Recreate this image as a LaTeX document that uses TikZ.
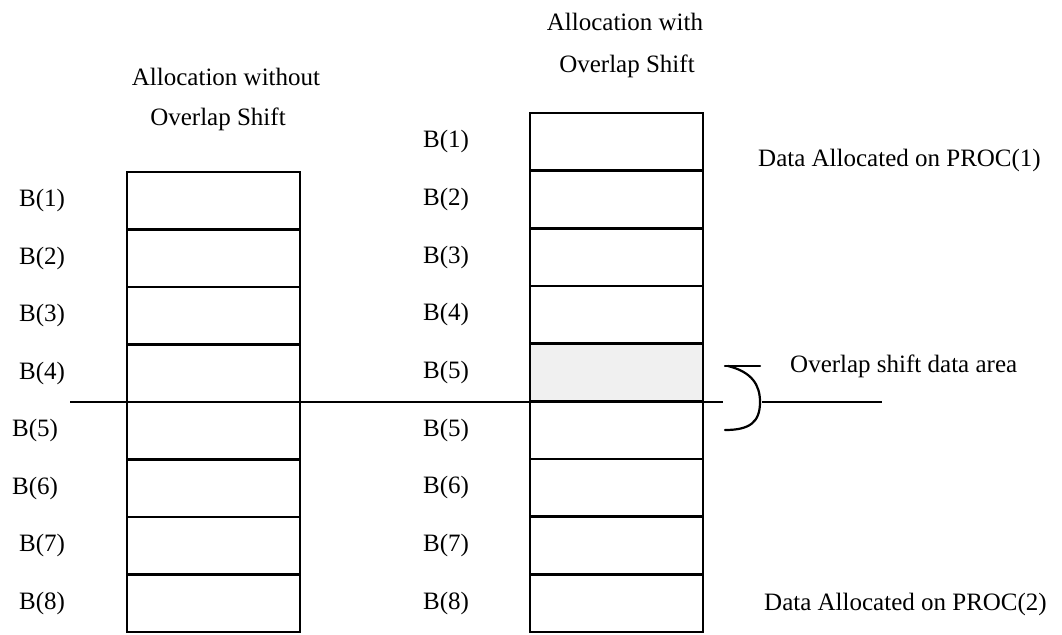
\documentclass[tikz,border=0pt]{standalone}
\usepackage{fontspec}
\setmainfont{Liberation Serif}
\begin{document}
\begin{tikzpicture}[x=1pt,y=-1pt,
  every node/.style={font=\fontsize{25}{30}\selectfont},
  cell/.style={draw, line width=2.4pt, inner sep=0pt, outer sep=0pt,
               minimum width=173pt, minimum height=57.6pt},
  shaded/.style={cell, fill=black!6},
  lbl/.style={inner sep=0pt, anchor=center},
  rule/.style={line width=2pt},
  brace/.style={line width=2.2pt, line cap=round}]
\useasboundingbox (0,0) rectangle (1062,634);

% column titles
\node[lbl] (tl1) at (226,77) {Allocation without};
\node[lbl] (tl2) at (218,119) {Overlap Shift};
\node[lbl] (tr1) at (625,22) {Allocation with};
\node[lbl] (tr2) at (627,66) {Overlap Shift};

% left column: eight blocks
\foreach \i/\y in {1/200.75,2/258.25,3/315.75,4/373.25,5/430.75,6/488.25,7/545.75,8/603.25}
  \node[cell] (L\i) at (213.5,\y) {};
\foreach \i/\x in {1/42,2/42,3/42,4/42,5/35,6/35,7/42,8/42}
  \node[lbl] (LB\i) at (\x,{200.75+57.5*(\i-1)}) {B(\i)};

% right column: nine blocks, the fifth one shaded
\foreach \i in {1,...,9}
  \node[cell] (R\i) at (616.5,{141.8+57.67*(\i-1)}) {};
\node[shaded] (R5s) at (R5) {};
\foreach \i/\t in {1/1,2/2,3/3,4/4,5/5,6/5,7/6,8/7,9/8}
  \node[lbl] (RB\i) at (446,{141.8+57.67*(\i-1)}) {B(\t)};

% processor boundary
\coordinate (hl) at (70,402);
\coordinate (hm) at (723,402);
\coordinate (hn) at (762,402);
\coordinate (hr) at (882,402);
\draw[rule] (hl) -- (hm);
\draw[rule] (hn) -- (hr);

% bracket marking the overlap area
\draw[brace] (725,366) -- (760,366);
\draw[brace] (728,366) .. controls (752,372) and (760,385) .. (760,402)
             .. controls (760,422) and (750,430) .. (725,430);

% annotations
\node[lbl, anchor=west] (p1) at (758,160) {Data Allocated on PROC(1)};
\node[lbl, anchor=west] (ov) at (790,366) {Overlap shift data area};
\node[lbl, anchor=west] (p2) at (764,604) {Data Allocated on PROC(2)};
\end{tikzpicture}
\end{document}
